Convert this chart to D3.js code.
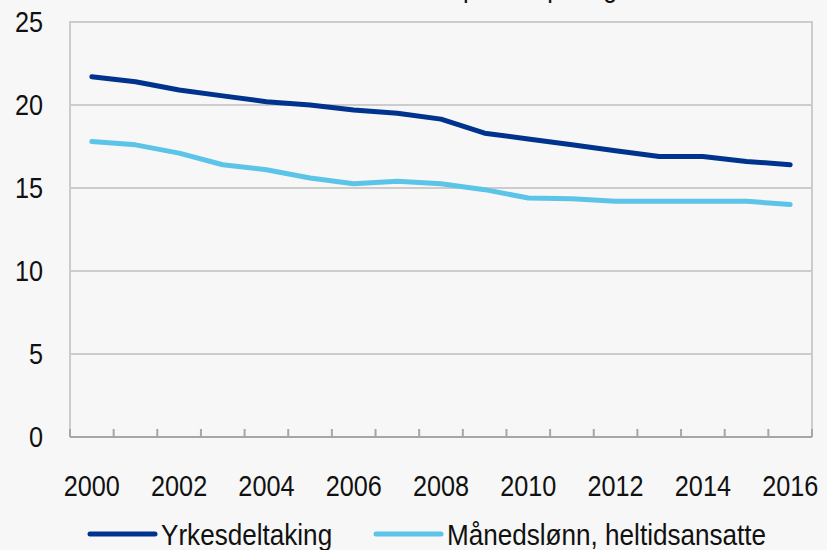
<!DOCTYPE html>
<html>
<head>
<meta charset="utf-8">
<script src="https://cdn.jsdelivr.net/npm/d3@7"></script>
<style>
  html, body { margin: 0; padding: 0; background: #f7f7f7; }
  svg { display: block; }
  text { font-family: "Liberation Sans", Arial, sans-serif; fill: #111; }
</style>
</head>
<body>
<div id="chart"></div>
<script>
// data
const years = d3.range(2000, 2017);
const yrkesdeltaking = [21.7, 21.4, 20.9, 20.55, 20.2, 20.0, 19.7, 19.5, 19.15, 18.3, 17.95, 17.6, 17.25, 16.9, 16.9, 16.6, 16.4];
const maanedslonn = [17.8, 17.6, 17.1, 16.4, 16.1, 15.6, 15.25, 15.4, 15.25, 14.9, 14.4, 14.35, 14.2, 14.2, 14.2, 14.2, 14.0];
const yTicks = [0, 5, 10, 15, 20, 25];
const xLabels = [2000, 2002, 2004, 2006, 2008, 2010, 2012, 2014, 2016];

const width = 827, height = 550;
const plotLeft = 70, plotRight = 812, plotTop = 22, plotBottom = 437;
const squeeze = 0.87; // the original font is a narrow one

const svg = d3.select("#chart").append("svg")
  .attr("width", width)
  .attr("height", height);

const x = d3.scaleBand().domain(years).range([plotLeft, plotRight]).padding(0);
const y = d3.scaleLinear().domain([0, 25]).range([plotBottom, plotTop]);

// narrow text helper
function place(px, py) {
  return `translate(${px},${py}) scale(${squeeze},1)`;
}

// cut-off title, only descenders visible
svg.append("text")
  .attr("transform", place(463, -3))
  .attr("font-size", 29)
  .text("prosentpoeng");

// gridlines
svg.selectAll(".grid")
  .data(yTicks.filter((d) => d > 0))
  .enter()
  .append("line")
  .attr("class", "grid")
  .attr("x1", plotLeft)
  .attr("x2", plotRight)
  .attr("y1", (d) => y(d))
  .attr("y2", (d) => y(d))
  .attr("stroke", "#cccccc")
  .attr("stroke-width", 2);

// frame
svg.append("path")
  .attr("d", `M${plotLeft},${plotBottom}V${plotTop}H${plotRight}V${plotBottom}`)
  .attr("fill", "none")
  .attr("stroke", "#cccccc")
  .attr("stroke-width", 2);

// x axis line + ticks at category boundaries
svg.append("line")
  .attr("x1", plotLeft)
  .attr("x2", plotRight)
  .attr("y1", plotBottom)
  .attr("y2", plotBottom)
  .attr("stroke", "#a6a6a6")
  .attr("stroke-width", 2);

const bounds = years.map((d) => x(d)).concat([x.range()[1]]);
svg.selectAll(".xtick")
  .data(bounds)
  .enter()
  .append("line")
  .attr("class", "xtick")
  .attr("x1", (d) => d)
  .attr("x2", (d) => d)
  .attr("y1", plotBottom)
  .attr("y2", plotBottom - 8)
  .attr("stroke", "#a6a6a6")
  .attr("stroke-width", 2);

// y labels
svg.selectAll(".ylab")
  .data(yTicks)
  .enter()
  .append("text")
  .attr("class", "ylab")
  .attr("transform", (d) => place(43, y(d)))
  .attr("dy", "0.36em")
  .attr("text-anchor", "end")
  .attr("font-size", 29)
  .text((d) => d);

// x labels
svg.selectAll(".xlab")
  .data(xLabels)
  .enter()
  .append("text")
  .attr("class", "xlab")
  .attr("transform", (d) => place(x(d) + x.bandwidth() / 2, 496))
  .attr("text-anchor", "middle")
  .attr("font-size", 29)
  .text((d) => d);

// lines
const series = [
  { name: "Yrkesdeltaking", values: yrkesdeltaking, color: "#00338d" },
  { name: "Månedslønn, heltidsansatte", values: maanedslonn, color: "#5bc4e8" },
];

const line = d3.line()
  .x((d, i) => x(years[i]) + x.bandwidth() / 2)
  .y((d) => y(d));

series.forEach((s) => {
  svg.append("path")
    .datum(s.values)
    .attr("d", line)
    .attr("fill", "none")
    .attr("stroke", s.color)
    .attr("stroke-width", 5)
    .attr("stroke-linecap", "round")
    .attr("stroke-linejoin", "round");
});

// legend
const legendPos = [90, 376];
series.forEach((s, i) => {
  const g = svg.append("g").attr("transform", `translate(${legendPos[i]},534)`);
  g.append("line")
    .attr("x1", 0)
    .attr("x2", 65)
    .attr("stroke", s.color)
    .attr("stroke-width", 5)
    .attr("stroke-linecap", "round");
  g.append("text")
    .attr("transform", place(71, 0))
    .attr("dy", "0.36em")
    .attr("font-size", 30)
    .text(s.name);
});
</script>
</body>
</html>
